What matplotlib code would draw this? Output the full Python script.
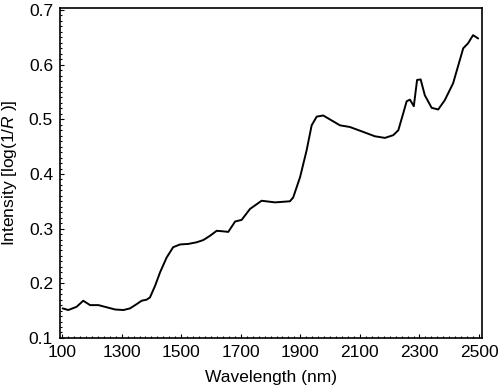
import matplotlib
matplotlib.use("Agg")
import matplotlib.pyplot as plt
from matplotlib.ticker import MultipleLocator

wavelength = [1102, 1121, 1149, 1171, 1194, 1222, 1250, 1278, 1306, 1328, 1351, 1367,
              1384, 1395, 1412, 1429, 1451, 1473, 1496, 1524, 1552, 1574, 1597, 1619,
              1641, 1658, 1681, 1703, 1731, 1770, 1815, 1865, 1876, 1899, 1921, 1938,
              1955, 1977, 2005, 2033, 2066, 2111, 2150, 2184, 2212, 2229, 2245, 2257,
              2268, 2281, 2292, 2304, 2318, 2341, 2363, 2385, 2413, 2447, 2463, 2480, 2497]
intensity = [0.154, 0.151, 0.157, 0.168, 0.160, 0.160, 0.156, 0.152, 0.151, 0.154, 0.162, 0.168,
             0.170, 0.174, 0.195, 0.220, 0.247, 0.266, 0.271, 0.272, 0.275, 0.279, 0.287, 0.296,
             0.295, 0.294, 0.313, 0.316, 0.336, 0.351, 0.348, 0.350, 0.357, 0.394, 0.443, 0.489,
             0.505, 0.507, 0.498, 0.489, 0.486, 0.477, 0.469, 0.466, 0.471, 0.480, 0.510, 0.533,
             0.536, 0.524, 0.572, 0.573, 0.544, 0.521, 0.518, 0.535, 0.566, 0.630, 0.639, 0.654, 0.648]

xticks = [1100, 1300, 1500, 1700, 1900, 2100, 2300, 2500]
xticklabels = ["100", "1300", "1500", "1700", "1900", "2100", "2300", "2500"]
yticks = [0.1, 0.2, 0.3, 0.4, 0.5, 0.6, 0.7]

plt.rcParams['font.family'] = ['Liberation Sans', 'DejaVu Sans']
plt.rcParams['mathtext.fontset'] = 'custom'
plt.rcParams['mathtext.it'] = 'Liberation Sans:italic'
plt.rcParams['mathtext.rm'] = 'Liberation Sans'

fig = plt.figure(figsize=(5.0, 3.92), dpi=100)
ax = fig.add_axes([0.12, 0.138, 0.844, 0.842])
ax.plot(wavelength, intensity, color='black', lw=1.4,
        solid_joinstyle='round', solid_capstyle='round')
ax.set_xlim(1093, 2510)
ax.set_ylim(0.1, 0.704)
ax.set_xticks(xticks)
ax.set_xticklabels(xticklabels)
ax.set_yticks(yticks)
ax.set_yticklabels([f"{v:.1f}" for v in yticks])
ax.xaxis.set_minor_locator(MultipleLocator(20))
ax.yaxis.set_minor_locator(MultipleLocator(0.01))
ax.tick_params(which='both', direction='in', labelsize=12.5, width=0.8, pad=5)
ax.tick_params(which='major', length=3)
ax.tick_params(which='minor', length=1.5)
for s in ax.spines.values():
    s.set_linewidth(1.2)
ax.set_xlabel("Wavelength (nm)", fontsize=12.5, labelpad=7)
ax.set_ylabel("Intensity [log(1/$\\mathit{R}$ )]", fontsize=12.5, labelpad=7)
fig.savefig("out.png", dpi=100)
